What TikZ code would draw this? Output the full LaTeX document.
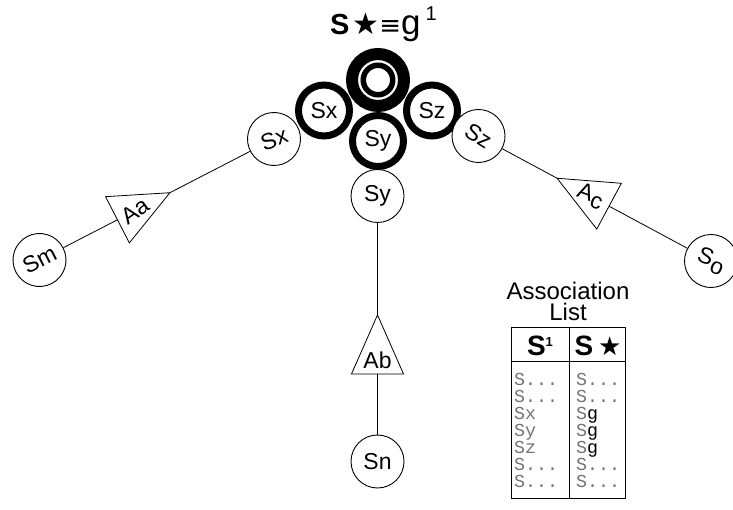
\documentclass[tikz,border=0pt]{standalone}
\usepackage{fontspec}
\setmainfont{Liberation Sans}
\newfontfamily\lstfont{Liberation Mono}
\newfontfamily\symfont{DejaVu Sans}
\usetikzlibrary{calc}
\newcommand{\lstdots}{S...}
\newcommand{\lstg}{S{\color{black}g}}

\begin{document}
\begin{tikzpicture}[x=1pt,y=-1pt,
  lbl/.style={font=\fontsize{23}{23}\selectfont},
  thinring/.style={circle, draw, line width=0.9pt, fill=white, minimum size=53pt, inner sep=0pt, lbl},
  boldring/.style={circle, draw, line width=7pt, fill=white, minimum size=51pt, inner sep=0pt, lbl},
  link/.style={draw, line width=0.8pt},
  tri/.style={draw, line width=0.8pt, fill=white, line join=miter},
  cell/.style={font=\lstfont\fontsize{18.3}{18.3}\selectfont, text=black!55, anchor=base west, inner sep=0pt},
  head/.style={font=\bfseries\fontsize{28}{28}\selectfont, inner sep=0pt},
]
\useasboundingbox (0,0) rectangle (733,510);

% title
\node[anchor=base west, inner sep=0pt] (title) at (330,35)
  {\fontsize{29}{29}\selectfont\bfseries S\hspace{3pt}{\symfont\mdseries\fontsize{30}{30}\selectfont ★}\mdseries{\symfont\fontsize{26}{26}\selectfont≡}\fontsize{35}{35}\selectfont g\hspace{5pt}\raisebox{14pt}{\fontsize{20}{20}\selectfont 1}};

% central cluster
\node[circle, draw, line width=12pt, fill=white, minimum size=52pt, inner sep=0pt] (core) at (378,80) {};
\node[circle, draw, line width=5.5pt, minimum size=29.5pt, inner sep=0pt] (corein) at (378,80) {};
\node[boldring] (Sx0) at (324,110.5) {Sx};
\node[boldring] (Sz0) at (432,110.5) {Sz};
\node[boldring] (Sy0) at (378,141) {Sy};

% outer states
\node[thinring, rotate=20] (Sx1) at (274,139) {Sx};
\node[thinring] (Sy1) at (377.5,196) {Sy};
\node[thinring, rotate=-32] (Sz1) at (478.5,136) {Sz};
\node[thinring, rotate=27] (Sm) at (39.5,260) {Sm};
\node[thinring] (Sn) at (377.5,461.5) {Sn};
\node[thinring, rotate=-22] (So) at (711,261) {S\raisebox{-5pt}{o}};

% association triangles, apex towards the cluster
\coordinate (Aa-apex) at ($(Sm)!0.556!(Sx1)$);
\coordinate (Aa-base) at ($(Aa-apex)!59pt!(Sm)$);
\coordinate (Aa-l) at ($(Aa-base)!26pt!90:(Aa-apex)$);
\coordinate (Aa-r) at ($(Aa-base)!26pt!-90:(Aa-apex)$);

\coordinate (Ab-apex) at ($(Sy1)!0.448!(Sn)$);
\coordinate (Ab-base) at ($(Ab-apex)!59pt!(Sn)$);
\coordinate (Ab-l) at ($(Ab-base)!26pt!90:(Ab-apex)$);
\coordinate (Ab-r) at ($(Ab-base)!26pt!-90:(Ab-apex)$);

\coordinate (Ac-apex) at ($(Sz1)!0.338!(So)$);
\coordinate (Ac-base) at ($(Ac-apex)!59pt!(So)$);
\coordinate (Ac-l) at ($(Ac-base)!26pt!90:(Ac-apex)$);
\coordinate (Ac-r) at ($(Ac-base)!26pt!-90:(Ac-apex)$);

\path[link] (Sx1) -- (Aa-apex) (Aa-base) -- (Sm);
\path[link] (Sy1) -- (Ab-apex) (Ab-base) -- (Sn);
\path[link] (Sz1) -- (Ac-apex) (Ac-base) -- (So);

\path[tri] (Aa-apex) -- (Aa-l) -- (Aa-r) -- cycle;
\path[tri] (Ab-apex) -- (Ab-l) -- (Ab-r) -- cycle;
\path[tri] (Ac-apex) -- (Ac-l) -- (Ac-r) -- cycle;

\node[lbl, rotate=35, inner sep=0pt] (Aa) at ($(Aa-apex)!0.667!(Aa-base)$) {Aa};
\node[lbl, inner sep=0pt] (Ab) at ($(Ab-apex)!0.76!(Ab-base)$) {Ab};
\node[lbl, rotate=-20, inner sep=0pt] (Ac) at ($(Ac-apex)!0.64!(Ac-base)$) {A\raisebox{-5pt}{c}};

% association list
\node[font=\fontsize{24}{24}\selectfont, inner sep=0pt, anchor=base] (cap1) at (568,300) {Association};
\node[font=\fontsize{24}{24}\selectfont, inner sep=0pt, anchor=base] (cap2) at (568,321) {List};
\draw[line width=0.9pt] (511,327) rectangle (625,498);
\draw[line width=0.9pt] (569,327) -- (569,498);
\draw[line width=0.9pt] (511,361) -- (625,361);
\node[head, anchor=base] (h1) at (540,355) {S\raisebox{9pt}{\fontsize{13}{13}\selectfont 1}};
\node[head, anchor=base] (h2) at (598,355) {S\,{\symfont\mdseries\fontsize{26}{26}\selectfont ★}};

\foreach \i/\l/\r in {1/\lstdots/\lstdots, 2/\lstdots/\lstdots, 3/Sx/\lstg, 4/Sy/\lstg,
                      5/Sz/\lstg, 6/\lstdots/\lstdots, 7/\lstdots/\lstdots} {
  \node[cell] (l\i) at (514, 368+17*\i) {\l};
  \node[cell] (r\i) at (576, 368+17*\i) {\r};
}
\end{tikzpicture}
\end{document}
